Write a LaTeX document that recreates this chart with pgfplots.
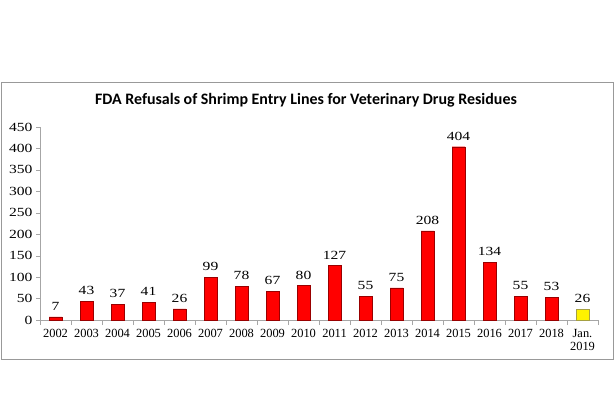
\documentclass[border=0pt]{standalone}
\usepackage{fontspec}
\setmainfont{Liberation Serif}
\newfontfamily\widefont[FakeStretch=1.25]{Liberation Serif}
\newfontfamily\titlefont{Carlito}
\usepackage{pgfplots}
\pgfplotsset{compat=1.18}
\begin{document}
\begin{tikzpicture}
% page size and chart border
\path (-40bp,-89bp) rectangle (574bp,320bp);
\draw[gray!80, line width=0.8bp] (-39bp,-39bp) rectangle (573bp,238bp);
\begin{axis}[
    at={(0bp,0bp)}, anchor=south west,
    scale only axis,
    width=558bp, height=193bp,
    xmin=-0.5, xmax=17.5,
    ymin=0, ymax=450,
    ytick={0,50,...,450},
    xtick={0,...,17},
    xticklabels={2002,2003,2004,2005,2006,2007,2008,2009,2010,2011,2012,2013,2014,2015,2016,2017,2018,{Jan.\\2019}},
    minor xtick={-0.5,0.5,...,17.5},
    major x tick style={draw=none},
    minor x tick style={draw=gray!70},
    y tick style={draw=gray!70},
    tick align=outside,
    major tick length=4bp, minor tick length=5bp,
    axis x line*=bottom, axis y line*=left,
    axis line style={gray!70, -},
    /pgf/number format/assume math mode=true,
    x tick label style={font=\fontsize{12.5}{12.5}\selectfont, align=center, yshift=-2bp},
    y tick label style={font=\widefont\fontsize{12.5}{12.5}\selectfont},
    nodes near coords,
    every node near coord/.append style={font=\widefont\fontsize{12.5}{12.5}\selectfont, yshift=3bp, black},
]
\addplot[ybar, bar width=13bp, bar shift=0pt, fill=red, draw=red!60!black] coordinates {
    (0,7) (1,43) (2,37) (3,41) (4,26) (5,99) (6,78) (7,67) (8,80)
    (9,127) (10,55) (11,75) (12,208) (13,404) (14,134) (15,55) (16,53)
};
\addplot[ybar, bar width=13bp, bar shift=0pt, fill=yellow, draw=yellow!60!black] coordinates {
    (17,26)
};
\end{axis}
\node[font=\titlefont\bfseries\fontsize{16}{18}\selectfont] at (266bp,220bp)
    {FDA Refusals of Shrimp Entry Lines for Veterinary Drug Residues};
\end{tikzpicture}
\end{document}
